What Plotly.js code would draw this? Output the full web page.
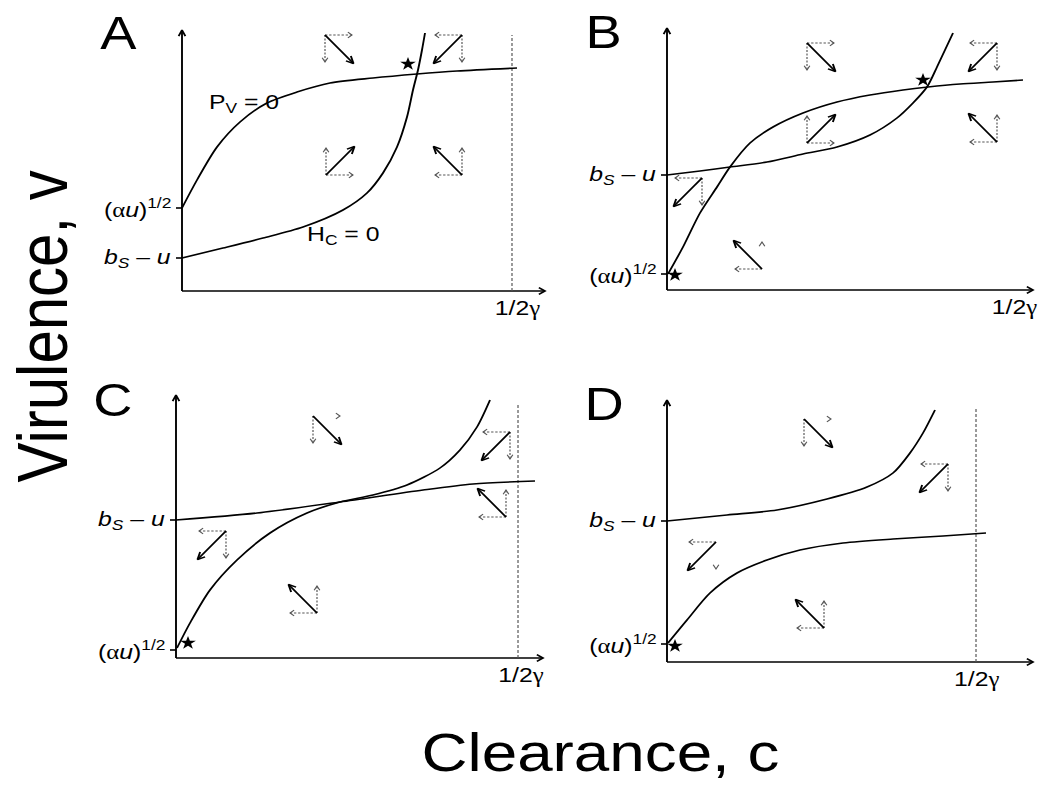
<!DOCTYPE html>
<html><head><meta charset="utf-8">
<script src="https://cdn.plot.ly/plotly-3.0.1.min.js"></script>
<style>
html,body{margin:0;padding:0;background:#fff;overflow:hidden}
#wrap{width:1039px;height:790px;overflow:hidden}
#chart{width:880px;height:790px;transform:scaleX(1.18068);transform-origin:0 0}
</style>
</head><body><div id="wrap"><div id="chart"></div></div>
<script>
// ===== DATA (units = clearance c / virulence v, schematic) =====
const ALPHA = '<span style="font-family:\'Liberation Serif\',serif">α</span>';
const GAMMA = '<span style="font-family:\'Liberation Serif\',serif">γ</span>';
const LBL_ROOT = '(' + ALPHA + '<i>u</i>)<sup>1/2</sup>';
const LBL_BSU = '<i>b</i><sub><i>S</i></sub> – <i>u</i>';

// Panel A
const A_curve1_c = [0,15,35,58,85,115,148,191,235,275,335];
const A_curve1_v = [83,111,144,169,188,199,208,213,217,220,223];
const A_curve2_c = [0,41,81,121,161,185,201,215,225,231,236,240,243];
const A_curve2_v = [33,43,53,64,81,98,118,144,174,201,221,241,258];
const A_tick_v = [83,33];
const A_tick_text = [LBL_ROOT, LBL_BSU];
const A_star_c = [226], A_star_v = [227];
const A_arrow_c = [143,280,144,280], A_arrow_v = [256,256,116,116];
const A_arrow_dc = [1,-1,1,-1], A_arrow_dv = [-1,-1,1,1];
const A_arrow_hflag = [1,1,1,1], A_arrow_vflag = [1,1,1,1];
const A_curve_labels = ['P<sub>V</sub> = 0','H<sub>C</sub> = 0'];

// Panel B
const B_curve1_c = [0,33,63,100,136,170,203,230,246,260,270,278,286];
const B_curve1_v = [115,119,123,128,136,143,155,172,187,203,223,240,257];
const B_curve2_c = [1,16,33,50,63,83,106,136,170,203,236,261,293,326,356];
const B_curve2_v = [16,43,77,103,123,147,163,177,188,195,200,203,206,208,210];
const B_tick_v = [115,16];
const B_tick_text = [LBL_BSU, LBL_ROOT];
const B_star_c = [256,8], B_star_v = [210,15];
const B_arrow_c = [140,330,140,330,35,95], B_arrow_v = [247,247,147,148,112,21];
const B_arrow_dc = [1,-1,1,-1,-1,-1], B_arrow_dv = [-1,-1,1,1,-1,1];
const B_arrow_hflag = [1,1,1,1,1,1], B_arrow_vflag = [1,1,1,1,1,0.5];

// Panel C
const C_curve1_c = [0,81,164,247,297,359];
const C_curve1_v = [138,145,156,168,174,177];
const C_curve2_c = [1,14,34,61,94,131,164,197,231,264,284,301,314];
const C_curve2_v = [10,35,68,98,125,145,156,163,173,190,208,231,258];
const C_tick_v = [138,8];
const C_tick_text = [LBL_BSU, LBL_ROOT];
const C_star_c = [12], C_star_v = [15];
const C_arrow_c = [137,334,330,50,141], C_arrow_v = [242,226,141,127,45];
const C_arrow_dc = [1,-1,-1,-1,-1], C_arrow_dv = [-1,-1,1,-1,1];
const C_arrow_hflag = [0.5,1,1,1,1], C_arrow_vflag = [1,1,1,1,1];

// Panel D
const D_curve1_c = [0,60,110,160,200,226,243,256,268];
const D_curve1_v = [141,147,152,163,175,189,209,229,252];
const D_curve2_c = [1,20,43,70,100,133,176,226,276,319];
const D_curve2_v = [19,42,69,89,102,112,119,123,126,129];
const D_tick_v = [141,18];
const D_tick_text = [LBL_BSU, LBL_ROOT];
const D_star_c = [8], D_star_v = [16];
const D_arrow_c = [137,281,49,157], D_arrow_v = [243,198,120,34];
const D_arrow_dc = [1,-1,-1,-1], D_arrow_dv = [-1,-1,-1,1];
const D_arrow_hflag = [0.5,1,1,1], D_arrow_vflag = [1,1,0.5,1];

const gammaText = '1/2' + GAMMA;
const xTitle = 'Clearance, c';
const yTitle = 'Virulence, v';

// ===== LAYOUT / STYLE =====
const W = 1039, H = 790;          // final picture size
const WP = 880;                   // plot width before horizontal stretch of the figure
const FONT = 'Arial, "Liberation Sans", Helvetica, sans-serif';
const panels = [
  {letter:'A', ox:182, oy:291, xLen:363, yLen:261, gLine:330, gTop:256, gLab:335,
   c1:[A_curve1_c,A_curve1_v], c2:[A_curve2_c,A_curve2_v], ticks:[A_tick_v,A_tick_text],
   stars:[A_star_c,A_star_v], arrows:[A_arrow_c,A_arrow_v,A_arrow_dc,A_arrow_dv,A_arrow_hflag,A_arrow_vflag],
   labels:[{t:A_curve_labels[0], x:25, y:188},{t:A_curve_labels[1], x:123, y:56}]},
  {letter:'B', ox:667, oy:290, xLen:366, yLen:262, gLine:null, gLab:347,
   c1:[B_curve1_c,B_curve1_v], c2:[B_curve2_c,B_curve2_v], ticks:[B_tick_v,B_tick_text],
   stars:[B_star_c,B_star_v], arrows:[B_arrow_c,B_arrow_v,B_arrow_dc,B_arrow_dv,B_arrow_hflag,B_arrow_vflag],
   labels:[]},
  {letter:'C', ox:176, oy:658, xLen:367, yLen:263, gLine:342, gTop:255, gLab:345,
   c1:[C_curve1_c,C_curve1_v], c2:[C_curve2_c,C_curve2_v], ticks:[C_tick_v,C_tick_text],
   stars:[C_star_c,C_star_v], arrows:[C_arrow_c,C_arrow_v,C_arrow_dc,C_arrow_dv,C_arrow_hflag,C_arrow_vflag],
   labels:[]},
  {letter:'D', ox:667, oy:662, xLen:366, yLen:262, gLine:309, gTop:255, gLab:309,
   c1:[D_curve1_c,D_curve1_v], c2:[D_curve2_c,D_curve2_v], ticks:[D_tick_v,D_tick_text],
   stars:[D_star_c,D_star_v], arrows:[D_arrow_c,D_arrow_v,D_arrow_dc,D_arrow_dv,D_arrow_hflag,D_arrow_vflag],
   labels:[]}
];

const XR = [-85, 372], YR = [-28, 268];
const ARM = 27, DIAG = 28.5;

function head(x0,y0,x1,y1,h,ang,xs,ys){
  const t = Math.atan2(y1-y0, x1-x0);
  xs.push(x1-h*Math.cos(t-ang), x1, x1-h*Math.cos(t+ang), null);
  ys.push(y1-h*Math.sin(t-ang), y1, y1-h*Math.sin(t+ang), null);
}

const traces = [], annotations = [], layout = {
  width:WP, height:H, margin:{l:0,r:0,t:0,b:0}, paper_bgcolor:'#fff', plot_bgcolor:'rgba(0,0,0,0)',
  showlegend:false, font:{family:FONT, color:'#000'}
};

panels.forEach((p,i)=>{
  const sfx = i===0 ? '' : String(i+1);
  const xa = 'x'+sfx, ya = 'y'+sfx;
  layout['xaxis'+sfx] = {domain:[(p.ox+XR[0])/W,(p.ox+XR[1])/W], range:XR, visible:false, fixedrange:true, anchor:ya};
  layout['yaxis'+sfx] = {domain:[1-(p.oy-YR[0])/H, 1-(p.oy-YR[1])/H], range:YR, visible:false, fixedrange:true, anchor:xa};
  const base = {xaxis:xa, yaxis:ya, mode:'lines', hoverinfo:'skip', showlegend:false, cliponaxis:false};

  // axes with arrowheads + tick marks
  const ax=[0,0,null,0,p.xLen,null], ay=[p.yLen,0,null,0,0,null];
  head(0,0,0,p.yLen,7,0.5,ax,ay);
  head(0,0,p.xLen,0,7,0.5,ax,ay);
  p.ticks[0].forEach(v=>{ax.push(-6,0,null); ay.push(v,v,null);});
  traces.push(Object.assign({}, base, {x:ax, y:ay, line:{color:'#000', width:1.6}}));

  // 1/2gamma dashed line
  if (p.gLine !== null){
    traces.push(Object.assign({}, base, {x:[p.gLine,p.gLine], y:[0,p.gTop], line:{color:'#555', width:1, dash:'3px,2px'}}));
  }

  // curves
  [p.c1,p.c2].forEach(c=>{
    traces.push(Object.assign({}, base, {x:c[0], y:c[1], line:{color:'#000', width:1.6, shape:'spline', smoothing:0.8}}));
  });

  // arrow groups
  const [ac,av,adc,adv,hf,vf] = p.arrows;
  const sx=[],sy=[],dx=[],dy=[],hx=[],hy=[];
  ac.forEach((c,k)=>{
    const v = av[k], ec = c+adc[k]*DIAG, ev = v+adv[k]*DIAG;
    sx.push(c,ec,null); sy.push(v,ev,null);
    head(c,v,ec,ev,8,0.45,sx,sy);
    const hc = c+adc[k]*ARM, vv = v+adv[k]*ARM;
    if (hf[k]===1){ dx.push(c,hc,null); dy.push(v,v,null); }
    if (hf[k]>0) head(c,v,hc,v,5,0.6,hx,hy);
    if (vf[k]===1){ dx.push(c,c,null); dy.push(v,vv,null); }
    if (vf[k]>0) head(c,v,c,vv,5,0.6,hx,hy);
  });
  traces.push(Object.assign({}, base, {x:dx, y:dy, line:{color:'#555', width:1, dash:'2px,1.5px'}}));
  traces.push(Object.assign({}, base, {x:hx, y:hy, line:{color:'#555', width:1}}));
  traces.push(Object.assign({}, base, {x:sx, y:sy, line:{color:'#000', width:1.6}}));

  // stars
  traces.push(Object.assign({}, base, {x:p.stars[0], y:p.stars[1], mode:'markers', marker:{symbol:'star', size:10, color:'#000'}}));

  // text
  const ann = (o)=>annotations.push(Object.assign({xref:xa, yref:ya, showarrow:false}, o));
  ann({x:-63, y:258, text:p.letter, font:{size:46, family:FONT}, xanchor:'center', yanchor:'middle'});
  p.ticks[0].forEach((v,k)=>ann({x:-8, y:v, text:p.ticks[1][k], font:{size:21, family:FONT}, xanchor:'right', yanchor:'middle'}));
  ann({x:p.gLab, y:-17, text:gammaText, font:{size:21, family:FONT}, xanchor:'center', yanchor:'middle'});
  p.labels.forEach(l=>ann({x:l.x, y:l.y, text:l.t, font:{size:21, family:FONT}, xanchor:'left', yanchor:'middle'}));
});

annotations.push({xref:'paper', yref:'paper', x:600/W, y:1-752/H, text:xTitle, showarrow:false,
  font:{size:54, family:FONT}, xanchor:'center', yanchor:'middle'});
annotations.push({xref:'paper', yref:'paper', x:42/W, y:1-327/H, text:yTitle, showarrow:false, textangle:-90,
  font:{size:60, family:FONT}, xanchor:'center', yanchor:'middle'});
layout.annotations = annotations;

Plotly.newPlot('chart', traces, layout, {displayModeBar:false, staticPlot:true});
</script></body></html>
